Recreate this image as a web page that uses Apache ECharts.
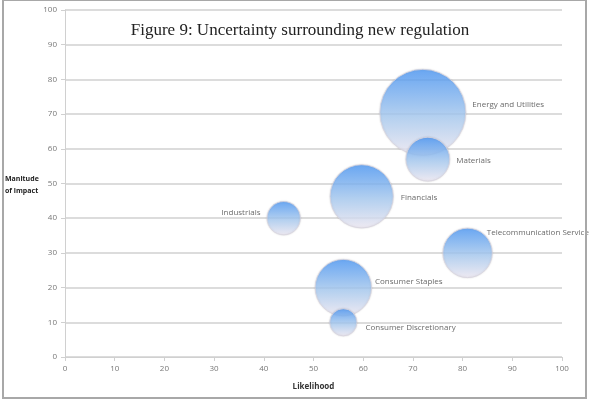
<!DOCTYPE html>
<html>
<head>
<meta charset="utf-8">
<script src="https://cdn.jsdelivr.net/npm/echarts@6/dist/echarts.min.js"></script>
<style>
  body { margin: 0; background: #fff; }
  #chart { width: 593px; height: 405px; }
  .frame {
    position: absolute; left: 2px; top: -1px; width: 585px; height: 400px;
    border: 2px solid #a8a8a8; box-sizing: border-box; pointer-events: none;
  }
</style>
</head>
<body>
<div id="chart"></div>
<div class="frame"></div>
<script>
// sectors, likelihood (x), magnitude of impact (y), bubble size (area)
var sectors = ["Energy and Utilities", "Materials", "Financials", "Industrials",
  "Telecommunication Service", "Consumer Staples", "Consumer Discretionary"];
var likelihood = [72, 73, 59.7, 44, 81, 56, 56];
var impact = [70.5, 57, 46.3, 40, 30, 20, 10];
var bubbleSize = [100, 26, 54, 15, 33, 43, 10];
var xTicks = [0, 10, 20, 30, 40, 50, 60, 70, 80, 90, 100];
var yTicks = [0, 10, 20, 30, 40, 50, 60, 70, 80, 90, 100];

// label nudges in pixels (like the hand-placed labels of the original)
var labelNudge = {
  "Energy and Utilities": [0, -8],
  "Materials": [0, 2],
  "Financials": [1, 1],
  "Industrials": [0, -9],
  "Telecommunication Service": [-12, -20],
  "Consumer Staples": [-3, -6],
  "Consumer Discretionary": [2, 5]
};

var chart = echarts.init(document.getElementById("chart"));

var points = sectors.map(function (name, i) {
  return { name: name, value: [likelihood[i], impact[i], bubbleSize[i]] };
});

var option = {
  animation: false,
  title: {
    text: "Figure 9: Uncertainty surrounding new regulation",
    left: 295, top: 17, textAlign: "center",
    textStyle: { fontFamily: "Liberation Serif", fontWeight: "normal", fontSize: 17, color: "#222" }
  },
  grid: { left: 65, right: 31, top: 10, bottom: 48 },
  xAxis: {
    type: "value", min: xTicks[0], max: xTicks[xTicks.length - 1], interval: 10,
    name: "Likelihood", nameLocation: "middle", nameGap: 26,
    nameTextStyle: { fontFamily: "Open Sans", fontWeight: "bold", fontSize: 8, color: "#333" },
    axisLine: { lineStyle: { color: "#d0d0d0", width: 1 } },
    axisTick: { show: true, length: 4, lineStyle: { color: "#d0d0d0" } },
    axisLabel: { fontFamily: "Open Sans", fontSize: 8, color: "#777", margin: 8 },
    splitLine: { show: false }
  },
  yAxis: {
    type: "value", min: yTicks[0], max: yTicks[yTicks.length - 1], interval: 10,
    axisLine: { show: true, lineStyle: { color: "#d0d0d0", width: 1 } },
    axisTick: { show: true, length: 4, lineStyle: { color: "#d0d0d0" } },
    axisLabel: { fontFamily: "Open Sans", fontSize: 8, color: "#777", margin: 8 },
    splitLine: { lineStyle: { color: "#dcdcdc", width: 2 } }
  },
  graphic: [{
    type: "text", left: 5, top: 173,
    style: {
      text: "Manitude\nof impact", fontFamily: "Open Sans", fontWeight: "bold",
      fontSize: 7, lineHeight: 12, fill: "#222", align: "left"
    }
  }],
  series: [{
    type: "scatter",
    data: points,
    symbolSize: function (v) { return 86 * Math.sqrt(v[2] / 100); },
    itemStyle: {
      color: new echarts.graphic.LinearGradient(0, 0, 0, 1, [
        { offset: 0, color: "#4a97f6" },
        { offset: 0.55, color: "#a9ccf3" },
        { offset: 1, color: "#f2ecf6" }
      ]),
      borderColor: "#d8d4e0", borderWidth: 1,
      shadowColor: "rgba(0,0,0,0.15)", shadowBlur: 2
    },
    label: {
      show: true, formatter: "{b}",
      fontFamily: "Open Sans", fontSize: 8, color: "#444",
      position: "right", distance: 6
    },
    labelLayout: function (p) {
      var name = sectors[p.dataIndex];
      var n = labelNudge[name] || [0, 0];
      if (name === "Industrials") {
        // this one sits to the left of its bubble
        return { x: p.rect.x - 6 + n[0], y: p.rect.y + p.rect.height / 2 + n[1], align: "right" };
      }
      return { x: p.labelRect.x + n[0], y: p.labelRect.y + n[1] };
    }
  }]
};

chart.setOption(option);
</script>
</body>
</html>
